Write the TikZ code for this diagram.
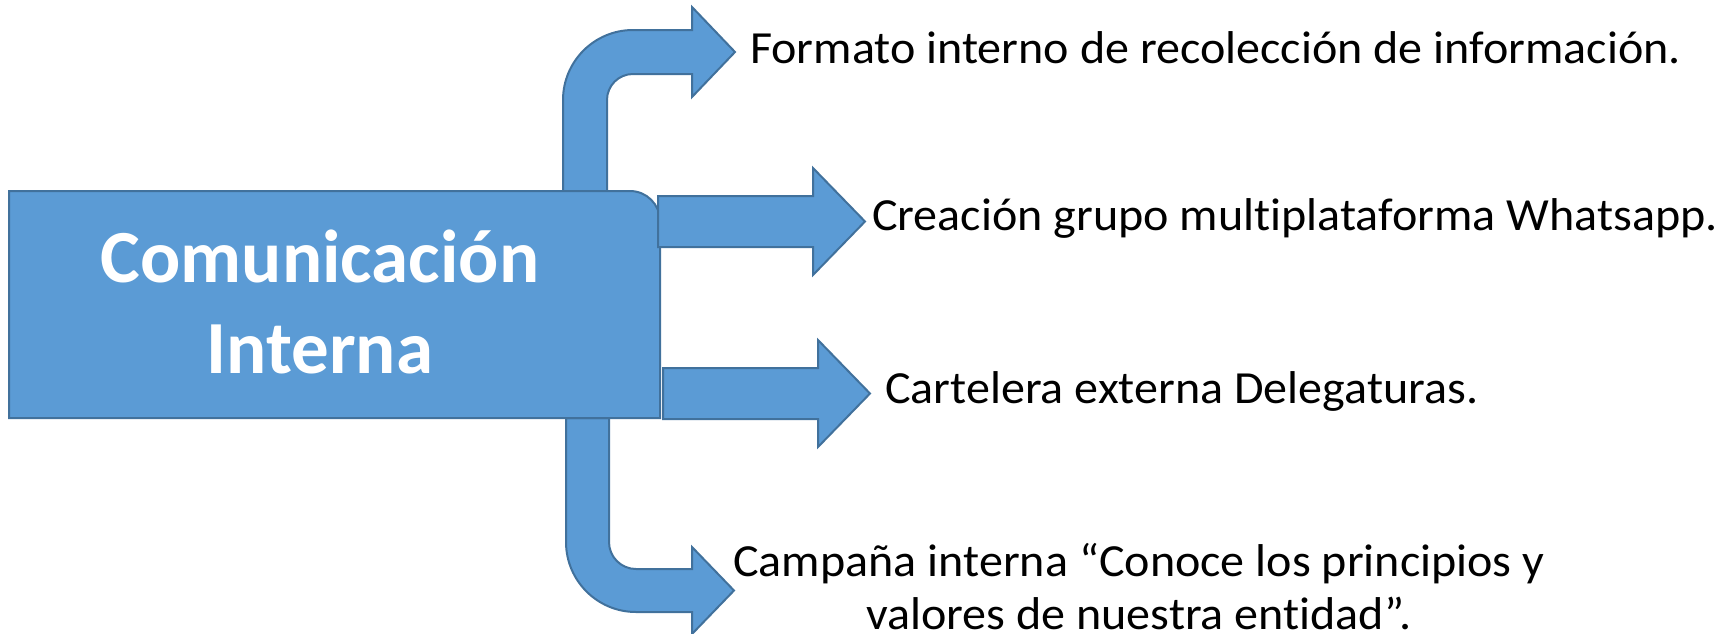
\documentclass[tikz,border=0pt]{standalone}
\usepackage{fontspec}
\setmainfont{Carlito}[Ligatures=NoCommon]
\definecolor{boxfill}{HTML}{5B9BD5}
\definecolor{boxline}{HTML}{41719C}
\begin{document}
\begin{tikzpicture}[x=1pt,y=1pt,
  blueshape/.style={fill=boxfill,draw=boxline,line width=2pt,line join=miter},
  itemtext/.style={inner sep=0pt,font=\fontsize{46}{48}\selectfont,text=black,xscale=1.045},
  titletext/.style={inner sep=0pt,font=\bfseries\fontsize{75}{91}\selectfont,text=white,align=center}]
\useasboundingbox (0,0) rectangle (1730,-633);
% top bent arrow
\draw[blueshape] (563,-191) -- (563,-100) arc[start angle=180,end angle=90,radius=70]
  -- (692,-30) -- (692,-7) -- (735,-52) -- (692,-97) -- (692,-74) -- (633,-74)
  arc[start angle=90,end angle=180,radius=26] -- (607,-191) -- cycle;
% bottom bent arrow
\draw[blueshape] (566,-418) -- (566,-542) arc[start angle=180,end angle=270,radius=70]
  -- (692,-612) -- (692,-634) -- (734,-590.5) -- (692,-547) -- (692,-569) -- (636,-569)
  arc[start angle=270,end angle=180,radius=27] -- (609,-418) -- cycle;
% main box
\draw[blueshape] (9,-191) -- (630,-191) arc[start angle=90,end angle=0,radius=30]
  -- (660,-418) -- (9,-418) -- cycle;
\node[titletext] (main) at (320,-302) {Comunicación\\Interna};
% straight arrows
\draw[blueshape] (658,-196) -- (813,-196) -- (813,-168) -- (865,-221.5) -- (813,-275) -- (813,-247) -- (658,-247) -- cycle;
\draw[blueshape] (663,-368) -- (818,-368) -- (818,-340) -- (870,-393.5) -- (818,-447) -- (818,-419) -- (663,-419) -- cycle;
% labels
\node[itemtext,anchor=base west] (t1) at (750,-63) {Formato interno de recolección de información.};
\node[itemtext,anchor=base west] (t2) at (872,-230) {Creación grupo multiplataforma Whatsapp.};
\node[itemtext,anchor=base west] (t3) at (885,-403) {Cartelera externa Delegaturas.};
\node[itemtext,anchor=base,align=center,font=\fontsize{46}{53}\selectfont] (t4) at (1139,-629) {Campaña interna “Conoce los principios y\\valores de nuestra entidad”.};
\end{tikzpicture}
\end{document}
